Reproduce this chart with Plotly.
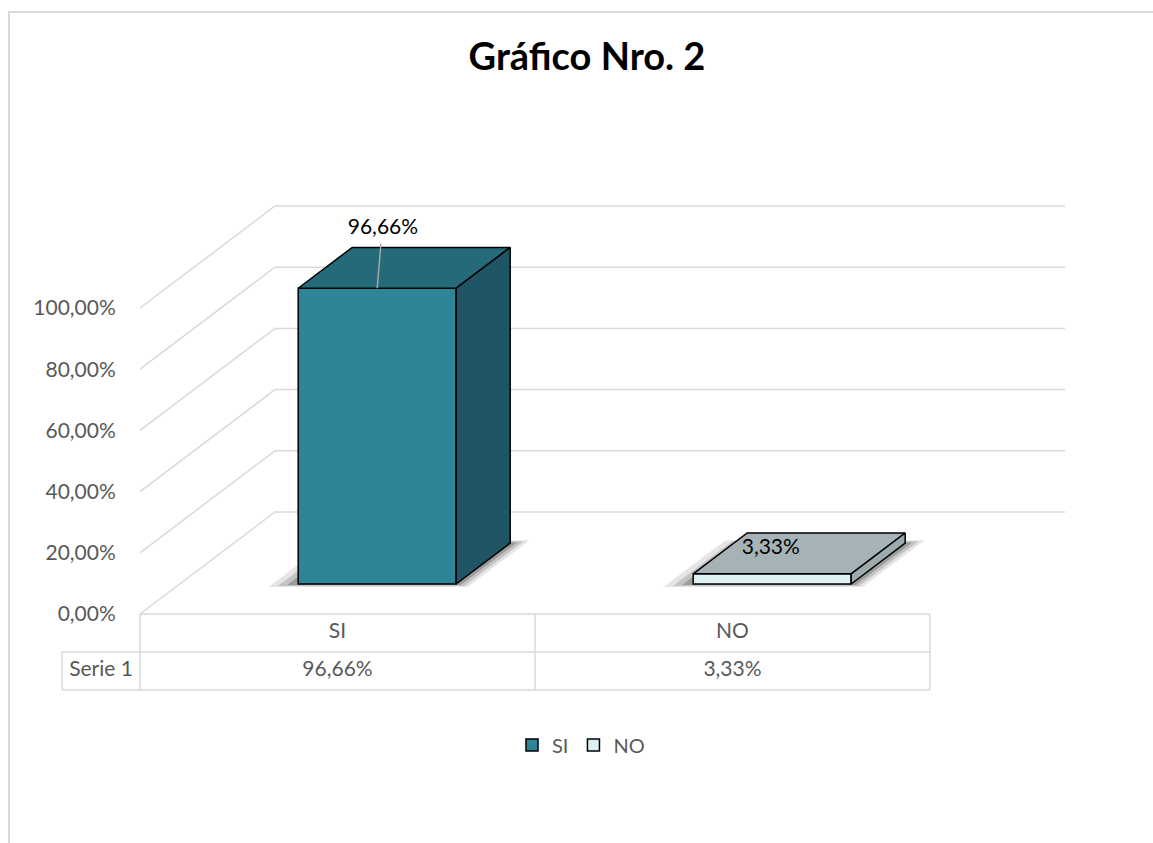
import plotly.graph_objects as go

# ---------------- data ----------------
categories = ["SI", "NO"]
values = [96.66, 3.33]
value_labels = ["96,66%", "3,33%"]
series_name = "Serie 1"
y_ticks = [0, 20, 40, 60, 80, 100]
y_tick_text = [f"{t:.2f}%".replace(".", ",") for t in y_ticks]

# ---------------- styles ----------------
front_colors = ["#2E8598", "#DDF1F5"]
top_colors = ["#246A78", "#A6B3B6"]
side_colors = ["#1F5564", "#9DABAE"]
label_dx = [0.0145, -0.0035]   # label offset (category units) from the front-top edge centre
label_dv = [29.2, 17.9]        # label offset (percent units) above the bar value
leader = [True, False]
GRID = "#D9D9D9"
TXT = "#595959"
FONT = "Lato"

FIG_W, FIG_H = 1153, 843
X0_PX, COL_PX = 140, 395       # left of plot floor, width of a category
Y0_PX, PCT_PX = 614, 3.06      # pixel of 0 %, pixels per percent
DEPTH_X_PX, DEPTH_Y_PX = 135, 102
KX = DEPTH_X_PX / COL_PX       # depth offset in category units
KY = DEPTH_Y_PX / PCT_PX       # depth offset in percent units
BAR_W = 0.4
D0, D1 = 0.294, 0.694
ROW = 38 / PCT_PX
CL = -78 / COL_PX
N = len(categories)

xr = [-X0_PX / COL_PX, (FIG_W - X0_PX) / COL_PX]
yr = [(Y0_PX - FIG_H) / PCT_PX, Y0_PX / PCT_PX]


def P(c, v, d):
    return c + KX * d, v + KY * d


def poly(pts):
    xs = [p[0] for p in pts] + [pts[0][0]]
    ys = [p[1] for p in pts] + [pts[0][1]]
    return xs, ys


fig = go.Figure()

# ---- gridlines (side wall + back wall) ----
gx, gy = [], []
for t in y_ticks:
    a = P(0, t, 0)
    b = P(0, t, 1)
    c = P(N, t, 1)
    gx += [a[0], b[0], c[0], None]
    gy += [a[1], b[1], c[1], None]
fig.add_trace(go.Scatter(x=gx, y=gy, mode="lines", line=dict(color=GRID, width=1.5),
                         hoverinfo="skip", showlegend=False))

# ---- data table lines ----
tx, ty = [], []
tx += [0, N, None, CL, N, None, CL, N, None]
ty += [0, 0, None, -ROW, -ROW, None, -2 * ROW, -2 * ROW, None]
for i in range(N + 1):
    tx += [i, i, None]
    ty += [0, -2 * ROW, None]
tx += [CL, CL, None]
ty += [-ROW, -2 * ROW, None]
fig.add_trace(go.Scatter(x=tx, y=ty, mode="lines", line=dict(color=GRID, width=1.5),
                         hoverinfo="skip", showlegend=False))

# ---- data table text ----
txt_x = [i + 0.5 for i in range(N)] + [CL / 2] + [i + 0.5 for i in range(N)]
txt_y = [-ROW / 2] * N + [-1.5 * ROW] * (N + 1)
txt_t = categories + [series_name] + value_labels
fig.add_trace(go.Scatter(x=txt_x, y=txt_y, mode="text", text=txt_t,
                         textfont=dict(family=FONT, size=21, color=TXT),
                         hoverinfo="skip", showlegend=False))

# ---- shadows ----
for i in range(N):
    l = i + 0.5 - BAR_W / 2
    r = i + 0.5 + BAR_W / 2
    for ex, ed, op in [(0.065, 0.03, 0.10), (0.045, 0.02, 0.14), (0.025, 0.01, 0.2)]:
        pts = [P(l - ex, 0, D0 - ed), P(r + ex * 0.6, 0, D0 - ed), P(r + ex * 0.6, 0, D1 + ed),
               P(l - ex, 0, D1 + ed)]
        xs, ys = poly(pts)
        fig.add_trace(go.Scatter(x=xs, y=ys, mode="lines", fill="toself",
                                 fillcolor=f"rgba(0,0,0,{op})", line=dict(width=0),
                                 hoverinfo="skip", showlegend=False))

# ---- bars (front faces) ----
for i, (cat, v) in enumerate(zip(categories, values)):
    fx, fb = P(i + 0.5, 0, D0)
    fig.add_trace(go.Bar(x=[fx], y=[v], base=[fb], width=[BAR_W], name=cat,
                         marker=dict(color=front_colors[i], line=dict(color="black", width=1.5)),
                         xaxis="x2", yaxis="y2", hoverinfo="skip"))

# ---- top & side faces ----
for i, v in enumerate(values):
    l = i + 0.5 - BAR_W / 2
    r = i + 0.5 + BAR_W / 2
    top = [P(l, v, D0), P(r, v, D0), P(r, v, D1), P(l, v, D1)]
    side = [P(r, 0, D0), P(r, v, D0), P(r, v, D1), P(r, 0, D1)]
    for pts, col in [(top, top_colors[i]), (side, side_colors[i])]:
        xs, ys = poly(pts)
        fig.add_trace(go.Scatter(x=xs, y=ys, mode="lines", fill="toself", fillcolor=col,
                                 line=dict(color="black", width=1.5),
                                 xaxis="x2", yaxis="y2", hoverinfo="skip", showlegend=False))

# ---- data labels ----
for i, v in enumerate(values):
    bx, by = P(i + 0.5, v, D0)
    lx, ly = bx + label_dx[i], v + label_dv[i]
    if leader[i]:
        fig.add_trace(go.Scatter(x=[bx, lx - 0.005], y=[by, ly - 4.8],
                                 mode="lines", line=dict(color="#A6A6A6", width=1.5),
                                 xaxis="x2", yaxis="y2", hoverinfo="skip", showlegend=False))
    fig.add_trace(go.Scatter(x=[lx], y=[ly], mode="text", text=[value_labels[i]],
                             textfont=dict(family=FONT, size=21, color="black"),
                             xaxis="x2", yaxis="y2", hoverinfo="skip", showlegend=False))

fig.update_layout(
    width=FIG_W, height=FIG_H,
    margin=dict(l=0, r=0, t=0, b=0),
    paper_bgcolor="white", plot_bgcolor="white",
    showlegend=True,
    title=dict(text="Gráfico Nro. 2", x=587 / FIG_W, y=1 - 57 / FIG_H, xanchor="center", yanchor="middle",
               font=dict(family=FONT, size=38, color="black", weight="bold")),
    xaxis=dict(range=xr, visible=False, fixedrange=True),
    yaxis=dict(range=yr, anchor="free", position=X0_PX / FIG_W, tickmode="array",
               tickvals=y_ticks, ticktext=y_tick_text,
               showgrid=False, zeroline=False, showline=False,
               ticks="outside", ticklen=20, tickcolor="rgba(0,0,0,0)",
               tickfont=dict(family=FONT, size=21, color=TXT)),
    xaxis2=dict(range=xr, overlaying="x", visible=False),
    yaxis2=dict(range=yr, overlaying="y", visible=False),
    legend=dict(orientation="h", x=581 / FIG_W, y=1 - 745 / FIG_H, xanchor="center", yanchor="middle",
                font=dict(family=FONT, size=20, color=TXT), itemwidth=30, traceorder="normal"),
    shapes=[dict(type="rect", xref="paper", yref="paper", x0=9 / FIG_W, x1=1.2, y0=-0.2, y1=1 - 12 / FIG_H,
                 line=dict(color=GRID, width=2), layer="below")],
)

fig.write_html("out.html")
